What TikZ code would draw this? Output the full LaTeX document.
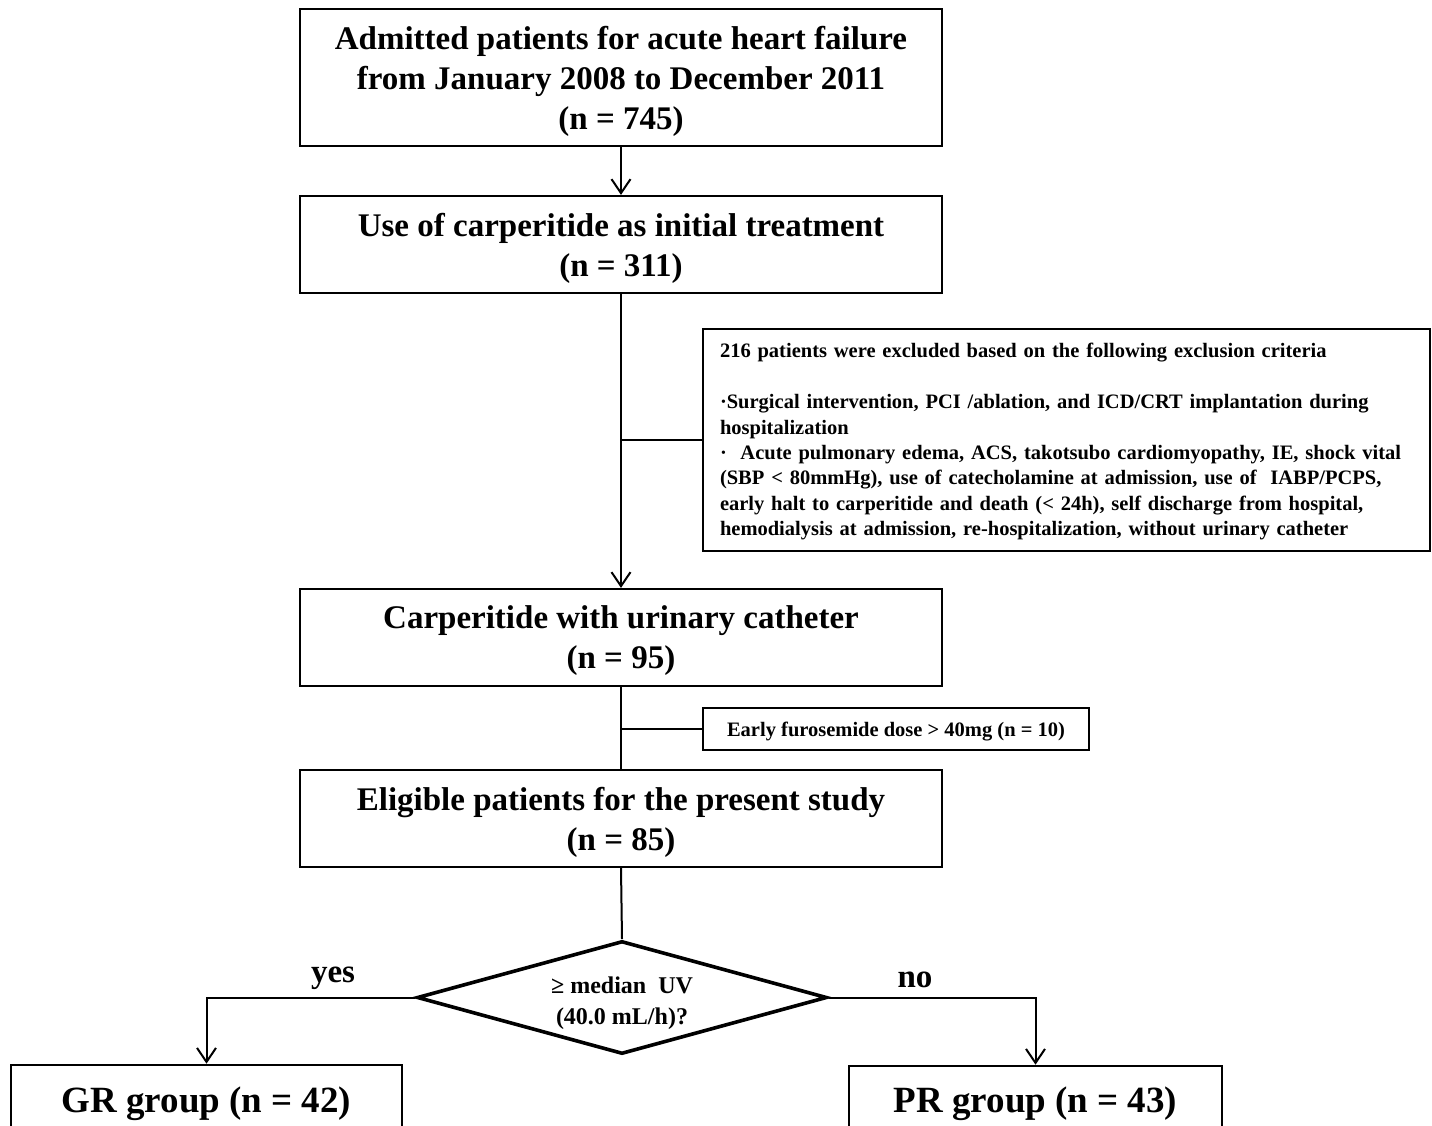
\documentclass[tikz,border=0pt]{standalone}
\usepackage{fontspec}
\setmainfont{Liberation Serif}
\usetikzlibrary{shapes.geometric,arrows.meta}
\begin{document}
\begin{tikzpicture}[x=1pt,y=-1pt,
  box/.style={draw, line width=2.2pt, minimum width=642pt, inner sep=0pt, align=center,
    text depth=0pt, font=\fontsize{33}{40}\selectfont\bfseries},
  smallbox/.style={draw, line width=2pt, inner sep=0pt,
    font=\fontsize{20.5}{25.4}\selectfont\bfseries},
  bigbox/.style={draw, line width=2.6pt, inner sep=0pt, text depth=0pt,
    font=\fontsize{37}{44}\selectfont\bfseries},
  decision/.style={draw, diamond, aspect=3.63, minimum width=410pt, minimum height=113pt,
    line width=3.6pt, inner sep=0pt, align=center, text depth=0pt,
    font=\fontsize{24}{31}\selectfont\bfseries},
  lbl/.style={inner sep=0pt, font=\fontsize{33}{40}\selectfont\bfseries},
  ln/.style={line width=2pt},
  arr/.style={line width=2pt, -{Straight Barb[length=14pt,width=19pt]}}]
\useasboundingbox (0,0) rectangle (1432,1126);
\clip (0,0) rectangle (1432,1126);

\node[box, minimum height=137pt] (b1) at (621,77.5)
  {Admitted patients for acute heart failure\\from January 2008 to December 2011\\(n = 745)};
\node[box, minimum height=97pt] (b2) at (621,244.5)
  {Use of carperitide as initial treatment\\(n = 311)};
\node[smallbox, minimum width=727pt, minimum height=222pt, text width=693pt, align=left] (ex) at (1066.5,440)
  {\mbox{\rule{0pt}{18pt}216 patients were excluded based on the following exclusion criteria}\\
   \mbox{}\\
   \mbox{·Surgical intervention, PCI /ablation, and ICD/CRT implantation during}\\
   \mbox{hospitalization}\\
   \mbox{·\ \ Acute pulmonary edema, ACS, takotsubo cardiomyopathy, IE, shock vital}\\
   \mbox{(SBP < 80mmHg), use of catecholamine at admission, use of\ \ IABP/PCPS,}\\
   \mbox{early halt to carperitide and death (< 24h), self discharge from hospital,}\\
   \mbox{hemodialysis at admission, re-hospitalization, without urinary catheter}};
\node[box, minimum height=97pt] (b3) at (621,637.5)
  {Carperitide with urinary catheter\\(n = 95)};
\node[smallbox, text depth=0pt, minimum width=386pt, minimum height=42pt] (fu) at (896,729)
  {Early furosemide dose > 40mg (n = 10)};
\node[box, minimum height=97pt] (b4) at (621,818.5)
  {Eligible patients for the present study\\(n = 85)};
\node[decision] (dia) at (622,997.5) {\rule{0pt}{22pt}≥ median~~UV\\(40.0 mL/h)?};
\node[bigbox, minimum width=391pt, minimum height=70pt] (gr) at (206.5,1100) {GR group (n = 42)};
\node[bigbox, minimum width=373pt, minimum height=68pt] (pr) at (1035.5,1100) {PR group (n = 43)};
\node[lbl] (yes) at (333,978) {yes};
\node[lbl] (no) at (915,980) {no};

\draw[arr] (b1.south) -- (b2.north);
\draw[arr] (b2.south) -- (b3.north);
\draw[ln] (b2.south |- ex.west) -- (ex.west);
\draw[ln] (b3.south) -- (b4.north);
\draw[ln] (b3.south |- fu.west) -- (fu.west);
\draw[ln] (b4.south) -- (dia.north);
\draw[arr] (dia.west) -| (gr.north);
\draw[arr] (dia.east) -| (pr.north);
\end{tikzpicture}
\end{document}
